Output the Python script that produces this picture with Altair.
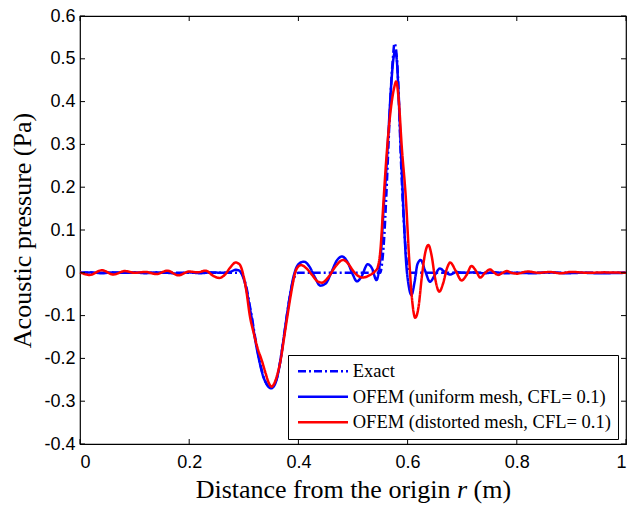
import altair as alt
import pandas as pd

SERIES = ["Exact", "OFEM (uniform mesh, CFL= 0.1)", "OFEM (distorted mesh, CFL= 0.1)"]

r_exact = [0.0, 0.1, 0.2, 0.29, 0.295, 0.30, 0.305, 0.31, 0.315, 0.32, 0.325, 0.33, 0.335, 0.34,
           0.345, 0.35, 0.355, 0.36, 0.365, 0.37, 0.375, 0.38, 0.385, 0.39, 0.395, 0.40, 0.45,
           0.50, 0.55, 0.553, 0.557, 0.561, 0.565, 0.569, 0.573, 0.576, 0.579, 0.583, 0.587,
           0.591, 0.595, 0.599, 0.603, 0.65, 0.8, 1.0]
p_exact = [0.0, 0.0, 0.0, 0.0, 0.0, -0.012, -0.035, -0.07, -0.105, -0.145, -0.18, -0.212, -0.238,
           -0.255, -0.265, -0.268, -0.263, -0.248, -0.22, -0.18, -0.135, -0.09, -0.05, -0.02,
           -0.005, 0.0, 0.0, 0.0, 0.0, 0.02, 0.08, 0.18, 0.30, 0.42, 0.50, 0.536, 0.52, 0.44,
           0.29, 0.17, 0.08, 0.02, 0.0, 0.0, 0.0, 0.0]

r_uniform = [0.0, 0.02, 0.04, 0.06, 0.08, 0.10, 0.12, 0.14, 0.16, 0.18, 0.20, 0.22, 0.24, 0.26,
             0.275, 0.285, 0.29, 0.295, 0.30, 0.305, 0.31, 0.315, 0.32, 0.325, 0.33, 0.335, 0.34,
             0.345, 0.35, 0.355, 0.36, 0.365, 0.37, 0.375, 0.38, 0.385, 0.39, 0.395, 0.40, 0.41,
             0.42, 0.43, 0.44, 0.45, 0.46, 0.47, 0.48, 0.49, 0.50, 0.507, 0.515, 0.527, 0.535,
             0.543, 0.548, 0.552, 0.556, 0.56, 0.565, 0.57, 0.574, 0.577, 0.58, 0.584, 0.589,
             0.593, 0.597, 0.602, 0.607, 0.613, 0.618, 0.624, 0.632, 0.641, 0.65, 0.659, 0.668,
             0.678, 0.69, 0.70, 0.72, 0.74, 0.76, 0.78, 0.80, 0.83, 0.86, 0.89, 0.92, 0.95, 1.0]
p_uniform = [0.0, 0.001, -0.001, 0.001, 0.0, 0.001, -0.001, 0.001, 0.0, -0.002, 0.001, -0.001,
             0.001, 0.0, 0.002, 0.007, 0.006, 0.0, -0.015, -0.04, -0.075, -0.11, -0.15, -0.185,
             -0.215, -0.24, -0.256, -0.266, -0.27, -0.265, -0.25, -0.22, -0.18, -0.135, -0.09,
             -0.05, -0.015, 0.008, 0.02, 0.026, 0.015, -0.01, -0.03, -0.025, 0.0, 0.028, 0.038,
             0.025, -0.005, -0.02, -0.01, 0.02, 0.01, -0.017, 0.01, 0.06, 0.15, 0.22, 0.33, 0.44,
             0.50, 0.517, 0.50, 0.40, 0.248, 0.13, 0.03, -0.03, -0.052, -0.02, 0.02, 0.03, 0.005,
             -0.021, -0.005, 0.01, 0.002, -0.004, 0.002, 0.0, 0.001, -0.001, 0.001, -0.001, 0.0,
             -0.001, 0.001, -0.001, 0.0, -0.001, 0.0]

r_distorted = [0.0, 0.018, 0.04, 0.061, 0.082, 0.10, 0.12, 0.14, 0.16, 0.18, 0.20, 0.215, 0.23,
               0.245, 0.255, 0.265, 0.275, 0.285, 0.292, 0.30, 0.305, 0.311, 0.318, 0.325, 0.333,
               0.34, 0.345, 0.351, 0.356, 0.362, 0.368, 0.374, 0.38, 0.387, 0.394, 0.40, 0.405,
               0.415, 0.425, 0.435, 0.443, 0.455, 0.468, 0.482, 0.492, 0.50, 0.507, 0.518, 0.53,
               0.54, 0.545, 0.55, 0.556, 0.56, 0.569, 0.575, 0.579, 0.584, 0.589, 0.597, 0.603,
               0.608, 0.614, 0.62, 0.626, 0.632, 0.638, 0.644, 0.65, 0.658, 0.665, 0.672, 0.678,
               0.688, 0.699, 0.708, 0.717, 0.725, 0.733, 0.742, 0.751, 0.758, 0.766, 0.774, 0.782,
               0.79, 0.80, 0.82, 0.84, 0.86, 0.88, 0.90, 0.93, 0.96, 1.0]
p_distorted = [0.001, -0.005, 0.006, -0.004, 0.004, 0.0, 0.002, -0.003, 0.005, -0.006, 0.003,
               0.001, 0.005, -0.008, -0.012, -0.005, 0.012, 0.024, 0.02, -0.01, -0.045, -0.10,
               -0.14, -0.175, -0.205, -0.235, -0.255, -0.266, -0.258, -0.235, -0.20, -0.15, -0.10,
               -0.045, 0.0, 0.015, 0.018, 0.01, -0.005, -0.02, -0.023, -0.01, 0.015, 0.030, 0.02,
               0.005, -0.005, -0.011, -0.006, 0.003, 0.012, 0.05, 0.17, 0.248, 0.38, 0.43, 0.447,
               0.40, 0.30, 0.17, 0.03, -0.06, -0.105, -0.08, -0.01, 0.045, 0.065, 0.04, -0.01,
               -0.044, -0.025, 0.01, 0.024, 0.005, -0.018, -0.005, 0.016, 0.005, -0.011, 0.0, 0.008,
               0.001, -0.005, 0.0, 0.004, 0.0, -0.002, 0.003, 0.0, 0.002, -0.001, 0.002, 0.0, 0.001,
               0.0]

x_ticks = [0, 0.2, 0.4, 0.6, 0.8, 1]
y_ticks = [-0.4, -0.3, -0.2, -0.1, 0, 0.1, 0.2, 0.3, 0.4, 0.5, 0.6]

x_title_parts = ["Distance from the origin", "r", "(m)"]

W, H = 546, 428

def frame(r, p, name):
    return pd.DataFrame({"r": r, "p": p, "series": name})

df_e = frame(r_exact, p_exact, SERIES[0])
df_u = frame(r_uniform, p_uniform, SERIES[1])
df_d = frame(r_distorted, p_distorted, SERIES[2])

xscale = alt.Scale(domain=[0, 1], nice=False, zero=False)
yscale = alt.Scale(domain=[-0.4, 0.6], nice=False, zero=False)

legend = alt.Legend(
    title=None, orient="none", legendX=208, legendY=339,
    symbolType="M-5,0H5", symbolSize=100, symbolStrokeWidth=2.5,
    symbolOffset=18.75, labelOffset=20.5,
    labelFont="Liberation Serif", labelFontSize=18.5, labelColor="black", labelLimit=500,
    rowPadding=6.5, padding=7, strokeColor="black", fillColor="white", cornerRadius=0,
)
color_scale = alt.Scale(domain=SERIES, range=["#0000ff", "#0000ff", "#ff0000"])
dash_scale = alt.Scale(domain=SERIES, range=[[8, 3, 2, 3], [1, 0], [1, 0]])

x_axis = alt.Axis(values=x_ticks, title="", grid=False,
                  ticks=False, tickSize=0, domain=False, labelPadding=9,
                  labelExpr="toString(datum.value)",
                  labelFont="Liberation Sans", labelFontSize=18, labelColor="black")
y_axis = alt.Axis(values=y_ticks, title="Acoustic pressure (Pa)", grid=False,
                  ticks=False, tickSize=0, domain=False, labelPadding=5,
                  labelExpr="toString(datum.value)",
                  labelFont="Liberation Sans", labelFontSize=18, labelColor="black",
                  titleFont="Liberation Serif", titleFontSize=26, titleFontWeight="normal",
                  titleColor="black", titleX=-50, titleY=214, titleBaseline="alphabetic")

X = alt.X("r:Q", scale=xscale, axis=x_axis)
Y = alt.Y("p:Q", scale=yscale, axis=y_axis)

def line_layer(df):
    return alt.Chart(df).mark_line(strokeWidth=2.5, interpolate="monotone").encode(
        x=X, y=Y,
        color=alt.Color("series:N", scale=color_scale, legend=legend),
        strokeDash=alt.StrokeDash("series:N", scale=dash_scale, legend=legend),
    )

xt = pd.DataFrame({"r": x_ticks})
yt = pd.DataFrame({"p": y_ticks})
tick_style = dict(color="black", strokeWidth=1)
xb = alt.Chart(xt).mark_rule(**tick_style).encode(
    x=X, y=alt.value(H), y2=alt.value(H - 5))
xtop = alt.Chart(xt).mark_rule(**tick_style).encode(
    x=X, y=alt.value(0), y2=alt.value(5))
yl = alt.Chart(yt).mark_rule(**tick_style).encode(
    y=Y, x=alt.value(0), x2=alt.value(5))
yr = alt.Chart(yt).mark_rule(**tick_style).encode(
    y=Y, x=alt.value(W), x2=alt.value(W - 5))

# x-axis title with an italic "r"
title_y = H + 54
r_left = 377
title_style = dict(font="Liberation Serif", fontSize=26, color="black", baseline="alphabetic")
t1 = alt.Chart(pd.DataFrame({"t": [x_title_parts[0]]})).mark_text(
    align="right", **title_style).encode(
    text="t:N", x=alt.value(r_left - 6.5), y=alt.value(title_y))
t2 = alt.Chart(pd.DataFrame({"t": [x_title_parts[1]]})).mark_text(
    align="left", fontStyle="italic", **title_style).encode(
    text="t:N", x=alt.value(r_left), y=alt.value(title_y))
t3 = alt.Chart(pd.DataFrame({"t": [x_title_parts[2]]})).mark_text(
    align="left", **title_style).encode(
    text="t:N", x=alt.value(r_left + 10 + 6.5), y=alt.value(title_y))

chart = alt.layer(
    line_layer(df_e), line_layer(df_u), line_layer(df_d),
    xb, xtop, yl, yr, t1, t2, t3,
).properties(
    width=W, height=H,
    autosize=alt.AutoSizeParams(type="none"),
    padding={"left": 80, "top": 16, "right": 4, "bottom": 61},
    background="white",
).configure_view(stroke="black", strokeWidth=1.2, clip=False)

chart.save("out.html", embed_options={"renderer": "svg", "actions": False})
